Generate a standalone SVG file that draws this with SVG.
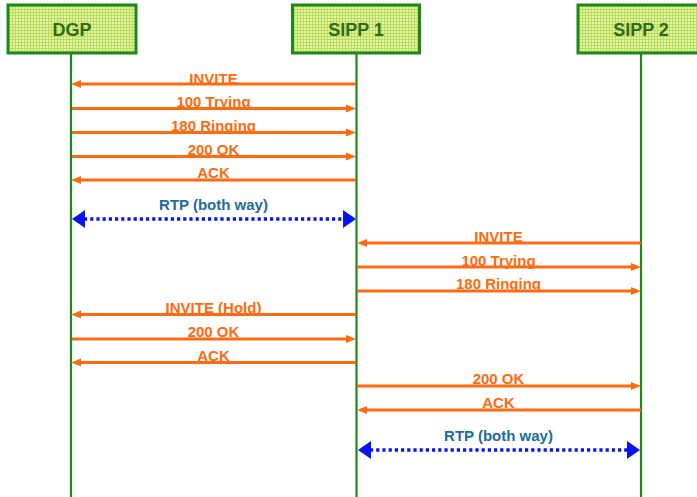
<svg xmlns="http://www.w3.org/2000/svg" width="697" height="497" viewBox="0 0 697 497">
  <style>
    .box { fill: url(#grid); stroke: #1b8a1b; stroke-width: 3; }
    .head { font-family: "Liberation Sans", Arial, sans-serif; font-weight: bold; font-size: 18px; fill: #2f6c10; text-anchor: middle; }
    .life { stroke: #1b8a1b; stroke-width: 2.2; fill: none; }
    .msg { stroke: #ff6a10; stroke-width: 2.8; fill: none; marker-end: url(#arrow); }
    .lbl { font-family: "Liberation Sans", Arial, sans-serif; font-weight: bold; font-size: 15px; fill: #ff6a10; text-anchor: middle; }
    .rtp { stroke: #0a14f0; stroke-width: 3.5; stroke-dasharray: 3.2 3; fill: none; marker-start: url(#rtpHead); marker-end: url(#rtpHead); }
    .rtplbl { font-family: "Liberation Sans", Arial, sans-serif; font-weight: bold; font-size: 15px; fill: #1c6c9c; text-anchor: middle; }
  </style>
  <defs>
    <pattern id="grid" width="3" height="3" patternUnits="userSpaceOnUse">
      <rect width="3" height="3" fill="#e4f4ac"/>
      <path d="M0,0.5 H3 M0.5,0 V3" stroke="#b9dc58" stroke-width="1"/>
    </pattern>
    <marker id="arrow" markerUnits="userSpaceOnUse" markerWidth="10" markerHeight="9" viewBox="0 0 10 9" refX="1" refY="4.5" orient="auto">
      <path d="M0,0.5 L10,4.5 L0,8.5 z" fill="#ff6a10"/>
    </marker>
    <marker id="rtpHead" markerUnits="userSpaceOnUse" markerWidth="13" markerHeight="18" viewBox="0 0 13 18" refX="1" refY="9" orient="auto-start-reverse">
      <path d="M0,0 L13,9 L0,18 z" fill="#0a14f0"/>
    </marker>
  </defs>

  <!-- lifelines -->
  <g id="lifelines">
    <line class="life" x1="71" y1="53" x2="71" y2="497"/>
    <line class="life" x1="356.5" y1="53" x2="356.5" y2="497"/>
    <line class="life" x1="641" y1="53" x2="641" y2="497"/>
  </g>

  <!-- participants -->
  <g id="dgp">
    <rect class="box" x="8" y="5" width="128" height="48"/>
    <text class="head" x="72" y="36">DGP</text>
  </g>
  <g id="sipp1">
    <rect class="box" x="292.5" y="5" width="127" height="48"/>
    <text class="head" x="356" y="36">SIPP 1</text>
  </g>
  <g id="sipp2">
    <rect class="box" x="578" y="5" width="127" height="48"/>
    <text class="head" x="641" y="36">SIPP 2</text>
  </g>

  <!-- messages -->
  <g id="connectors">
    <line class="msg" x1="356" y1="84" x2="80" y2="84"/>
    <line class="msg" x1="72" y1="108.5" x2="347" y2="108.5"/>
    <line class="msg" x1="72" y1="132.5" x2="347" y2="132.5"/>
    <line class="msg" x1="72" y1="156.5" x2="347" y2="156.5"/>
    <line class="msg" x1="356" y1="180" x2="80" y2="180"/>
    <line class="rtp" x1="84" y1="219" x2="344" y2="219"/>
    <line class="msg" x1="641" y1="243" x2="366" y2="243"/>
    <line class="msg" x1="357" y1="267" x2="632" y2="267"/>
    <line class="msg" x1="357" y1="291" x2="632" y2="291"/>
    <line class="msg" x1="356" y1="314.5" x2="80" y2="314.5"/>
    <line class="msg" x1="72" y1="339" x2="347" y2="339"/>
    <line class="msg" x1="356" y1="362.5" x2="80" y2="362.5"/>
    <line class="msg" x1="357" y1="386" x2="632" y2="386"/>
    <line class="msg" x1="641" y1="410" x2="366" y2="410"/>
    <line class="rtp" x1="370" y1="450" x2="628" y2="450"/>
  </g>

  <!-- message labels -->
  <g id="labels">
    <text class="lbl" x="213.5" y="84">INVITE</text>
    <text class="lbl" x="213.5" y="107">100 Trying</text>
    <text class="lbl" x="213.5" y="131">180 Ringing</text>
    <text class="lbl" x="213.5" y="155">200 OK</text>
    <text class="lbl" x="213.5" y="178">ACK</text>
    <text class="rtplbl" x="213.5" y="210">RTP (both way)</text>
    <text class="lbl" x="498.5" y="242">INVITE</text>
    <text class="lbl" x="498.5" y="266">100 Trying</text>
    <text class="lbl" x="498.5" y="289">180 Ringing</text>
    <text class="lbl" x="213.5" y="313">INVITE (Hold)</text>
    <text class="lbl" x="213.5" y="337">200 OK</text>
    <text class="lbl" x="213.5" y="361">ACK</text>
    <text class="lbl" x="498.5" y="384">200 OK</text>
    <text class="lbl" x="498.5" y="408">ACK</text>
    <text class="rtplbl" x="498.5" y="441">RTP (both way)</text>
  </g>
</svg>
